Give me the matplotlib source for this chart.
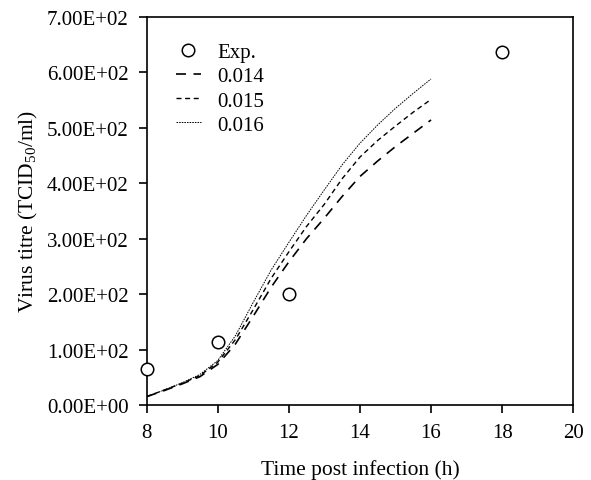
import matplotlib
matplotlib.use("Agg")
import matplotlib.pyplot as plt
from matplotlib.ticker import FuncFormatter

plt.rcParams['font.family'] = ['Liberation Serif', 'DejaVu Serif']
plt.rcParams['mathtext.fontset'] = 'custom'
plt.rcParams['mathtext.rm'] = 'Liberation Serif'
plt.rcParams['mathtext.it'] = 'Liberation Serif:italic'

# Experimental data
exp_t = [8, 10, 12, 18]
exp_v = [64, 113, 201, 636]

# Model curves
t = [8, 8.5, 9, 9.5, 10, 10.5, 11, 11.5, 12, 12.5, 13, 13.5, 14, 14.5, 15, 15.5, 16]
v_014 = [15, 26, 38, 51, 73, 110, 160, 212, 258, 300, 337, 376, 412, 440, 466, 490, 514]
v_015 = [15, 27, 39, 53, 77, 118, 172, 228, 276, 322, 362, 408, 447, 477, 503, 528, 551]
v_016 = [15, 27, 40, 55, 80, 125, 185, 243, 293, 342, 388, 433, 472, 505, 535, 562, 588]

labels = ['Exp.', '0.014', '0.015', '0.016']
x_ticks = [8, 10, 12, 14, 16, 18, 20]
y_ticks = [0, 100, 200, 300, 400, 500, 600, 700]

fig = plt.figure(figsize=(5.91, 4.81), dpi=100)
ax = fig.add_axes([0.248, 0.156, 0.722, 0.807])

ax.plot(exp_t, exp_v, linestyle='none', marker='o', markersize=9,
        markerfacecolor='white', markeredgecolor='black', markeredgewidth=1.1,
        clip_on=False, zorder=5, label=labels[0])
ax.plot(t, v_014, color='black', linewidth=1.2, dashes=(6.0, 4.5), label=labels[1])
ax.plot(t, v_015, color='black', linewidth=1.0, dashes=(3.6, 2.6), label=labels[2])
ax.plot(t, v_016, color='black', linewidth=0.7, dashes=(1.6, 1.1), label=labels[3])

ax.set_xlim(8, 20)
ax.set_ylim(0, 700)
ax.set_xticks(x_ticks)
ax.set_yticks(y_ticks)
ax.yaxis.set_major_formatter(FuncFormatter(lambda v, p: ('%.2E' % v)))

for s in ax.spines.values():
    s.set_linewidth(1.2)
ax.tick_params(axis='both', direction='out', length=5.5, width=1.2,
               labelsize=15, top=False, right=False)
ax.tick_params(axis='x', pad=7.5)
ax.tick_params(axis='y', pad=7.5)

ax.set_xlabel('Time post infection (h)', fontsize=15.5, labelpad=12)
ax.set_ylabel('Virus titre (TCID$_{\\mathrm{50}}$/ml)', fontsize=15.5, labelpad=5)

leg = ax.legend(loc='upper left', bbox_to_anchor=(0.019, 0.987), frameon=False,
                fontsize=15, handlelength=1.2, handletextpad=0.8,
                labelspacing=0.22, borderaxespad=0.6)

fig.savefig('out.png', dpi=100)
